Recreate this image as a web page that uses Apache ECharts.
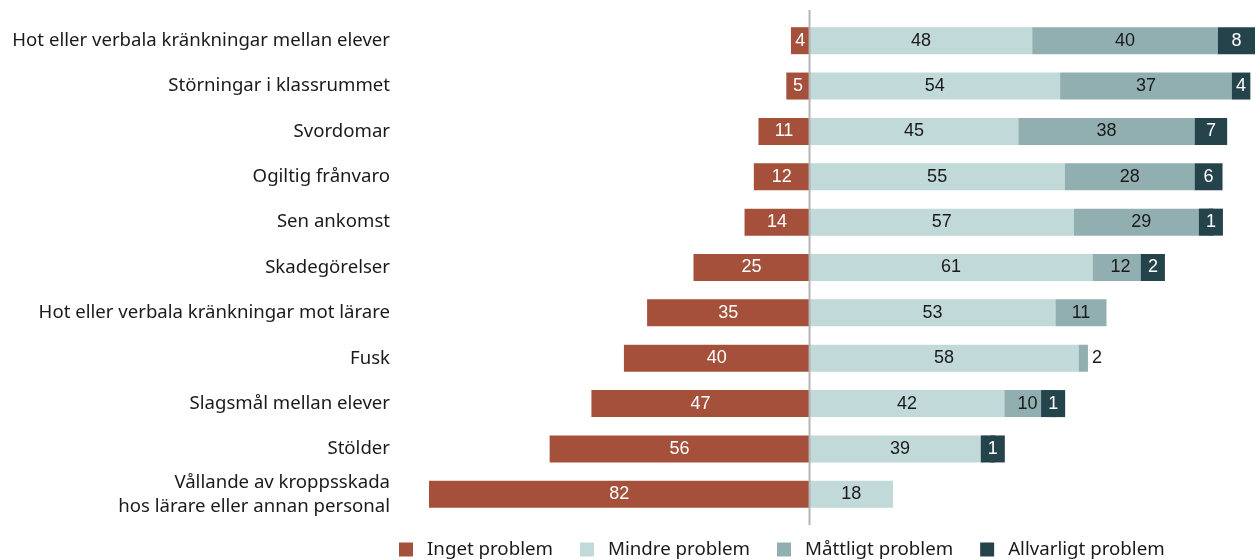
<!DOCTYPE html>
<html>
<head>
<meta charset="utf-8">
<script src="https://cdn.jsdelivr.net/npm/echarts@6/dist/echarts.min.js"></script>
<style>
  html, body { margin: 0; padding: 0; background: #fff; }
  #chart { width: 1260px; height: 560px; }
</style>
</head>
<body>
<div id="chart"></div>
<script>
// Problem areas, listed top to bottom
const categories = [
  'Hot eller verbala kränkningar mellan elever',
  'Störningar i klassrummet',
  'Svordomar',
  'Ogiltig frånvaro',
  'Sen ankomst',
  'Skadegörelser',
  'Hot eller verbala kränkningar mot lärare',
  'Fusk',
  'Slagsmål mellan elever',
  'Stölder',
  'Vållande av kroppsskada\nhos lärare eller annan personal'
];

// Share of answers (%) per category
const ingetProblem      = [4, 5, 11, 12, 14, 25, 35, 40, 47, 56, 82];
const mindreProblem     = [48, 54, 45, 55, 57, 61, 53, 58, 42, 39, 18];
const mattligtProblem   = [40, 37, 38, 28, 29, 12, 11, 2, 10, 0, 0];
const allvarligtProblem = [8, 4, 7, 6, 1, 2, 0, 0, 1, 1, 0];

const seriesNames = ['Inget problem', 'Mindre problem', 'Måttligt problem', 'Allvarligt problem'];
const colors = ['#a4503a', '#c2d9da', '#91aeb0', '#24434b'];
const labelColors = ['#ffffff', '#1a1a1a', '#1a1a1a', '#ffffff'];

const valueFont = 'Liberation Sans';
const textFont = 'Noto Sans';

// "Inget problem" is drawn to the left of zero, the rest stack to the right
function buildData(values, idx, sign) {
  return values.map(function (v) {
    if (!v) return '-';
    const item = { value: sign * v };
    if (v <= 2) {
      if (idx === 3) {
        // tiny severe segments get a solid tag so the number stays readable
        item.label = {
          backgroundColor: colors[3],
          padding: [5, 7, 4, 7],
          lineHeight: 18
        };
      } else {
        item.label = { position: 'right', color: '#1a1a1a', distance: 4 };
      }
    }
    return item;
  });
}

const seriesValues = [ingetProblem, mindreProblem, mattligtProblem, allvarligtProblem];

const series = seriesValues.map(function (vals, i) {
  return {
    name: seriesNames[i],
    type: 'bar',
    stack: 'total',
    barWidth: 27,
    itemStyle: { color: colors[i] },
    label: {
      show: true,
      position: 'inside',
      color: labelColors[i],
      fontFamily: valueFont,
      fontSize: 18,
      formatter: function (p) { return Math.abs(p.value); }
    },
    emphasis: { disabled: true },
    data: buildData(vals, i, i === 0 ? -1 : 1)
  };
});

const chart = echarts.init(document.getElementById('chart'), null, { renderer: 'canvas' });

chart.setOption({
  animation: false,
  color: colors,
  grid: { left: 429, right: 5, top: 18, bottom: 43, containLabel: false },
  xAxis: {
    type: 'value',
    min: -82,
    max: 96,
    show: false
  },
  yAxis: {
    type: 'category',
    data: categories,
    inverse: true,
    axisLine: { show: false },
    axisTick: { show: false },
    splitLine: { show: false },
    axisLabel: {
      margin: 39,
      color: '#1a1a1a',
      fontFamily: textFont,
      fontSize: 18.6,
      lineHeight: 24
    }
  },
  legend: {
    data: seriesNames,
    left: 399,
    top: 540,
    icon: 'rect',
    itemWidth: 14,
    itemHeight: 14,
    itemGap: 27,
    padding: 0,
    textStyle: {
      color: '#1a1a1a',
      fontFamily: textFont,
      fontSize: 18.7,
      padding: [0, 0, 0, 9]
    }
  },
  series: series
});

// Zero line between the negative and positive stacks
const x0 = chart.convertToPixel({ xAxisIndex: 0 }, 0);
chart.setOption({
  graphic: [{
    type: 'line',
    z: 100,
    shape: { x1: x0, y1: 10, x2: x0, y2: 525 },
    style: { stroke: '#b5b5b5', lineWidth: 2 }
  }]
});
</script>
</body>
</html>
